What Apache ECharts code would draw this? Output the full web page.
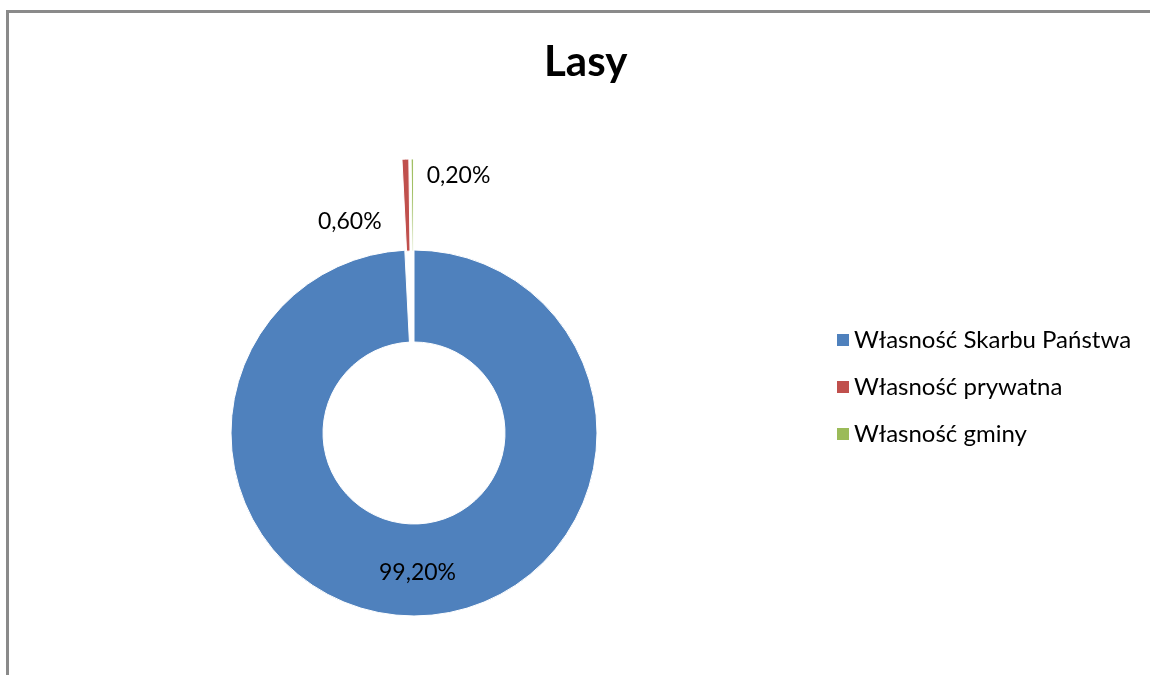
<!DOCTYPE html>
<html>
<head>
<meta charset="utf-8">
<title>Lasy</title>
<script src="https://cdn.jsdelivr.net/npm/echarts@6/dist/echarts.min.js"></script>
<style>
    html, body { margin: 0; padding: 0; background: #fff; overflow: hidden; }
    #pie { width: 1150px; height: 675px; }
</style>
</head>
<body>
<div id="pie"></div>
<script>
var ownerNames = ['Własność Skarbu Państwa', 'Własność prywatna', 'Własność gminy']
var shareValues = [99.2, 0.6, 0.2]
var shareLabels = ['99,20%', '0,60%', '0,20%']
var pulledOut = [false, true, true]
var sliceColors = ['#4F81BD', '#C0504D', '#9BBB59']

var pieData = []

window.onload = function() {
    for (var i = 0; i < ownerNames.length; i++) {
        pieData[i] = {
            name: ownerNames[i],
            value: shareValues[i],
            selected: pulledOut[i]
        }
    }

    var lasyPie = echarts.init(document.getElementById('pie'));

    var pieOption = {
        color: sliceColors,
        animation: false,
        textStyle: {
            fontFamily: 'Lato'
        },
        // chart-area frame (only left and top edges are in view)
        graphic: [
            {
                type: 'polyline',
                silent: true,
                shape: { points: [[7.5, 680], [7.5, 11.5], [1160, 11.5]] },
                style: { fill: null, stroke: '#8a8a8a', lineWidth: 3 }
            }
        ],
        title: {
            text: 'Lasy',
            left: 539,
            top: 36,
            textStyle: {
                fontFamily: 'Lato',
                fontSize: 42,
                fontWeight: 'bold',
                color: '#000'
            }
        },
        legend: {
            orient: 'vertical',
            left: 830,
            top: 323,
            itemGap: 23,
            itemWidth: 14,
            itemHeight: 14,
            icon: 'rect',
            selectedMode: false,
            textStyle: {
                fontFamily: 'Lato',
                fontSize: 24,
                color: '#000',
                padding: [0, 0, 0, -1]
            },
            data: ownerNames
        },
        series: [
            {
                name: 'Lasy',
                type: 'pie',
                center: [414, 433],
                radius: [91, 183],
                startAngle: 90,
                clockwise: true,
                selectedMode: 'multiple',
                selectedOffset: 91,
                avoidLabelOverlap: false,
                itemStyle: {
                    borderColor: '#fff',
                    borderWidth: 1
                },
                label: {
                    show: true,
                    position: 'inside',
                    fontFamily: 'Lato',
                    fontSize: 23,
                    color: '#000',
                    formatter: function (params) {
                        return shareLabels[params.dataIndex];
                    }
                },
                labelLine: { show: false },
                labelLayout: function (params) {
                    // nudge the two tiny slices' labels to the sides
                    if (params.dataIndex === 1) return { dx: -57, dy: 19 };
                    if (params.dataIndex === 2) return { dx: 46, dy: -26 };
                    return {};
                },
                emphasis: { disabled: true },
                data: pieData
            }
        ]
    };

    lasyPie.setOption(pieOption);
}
</script>
</body>
</html>
